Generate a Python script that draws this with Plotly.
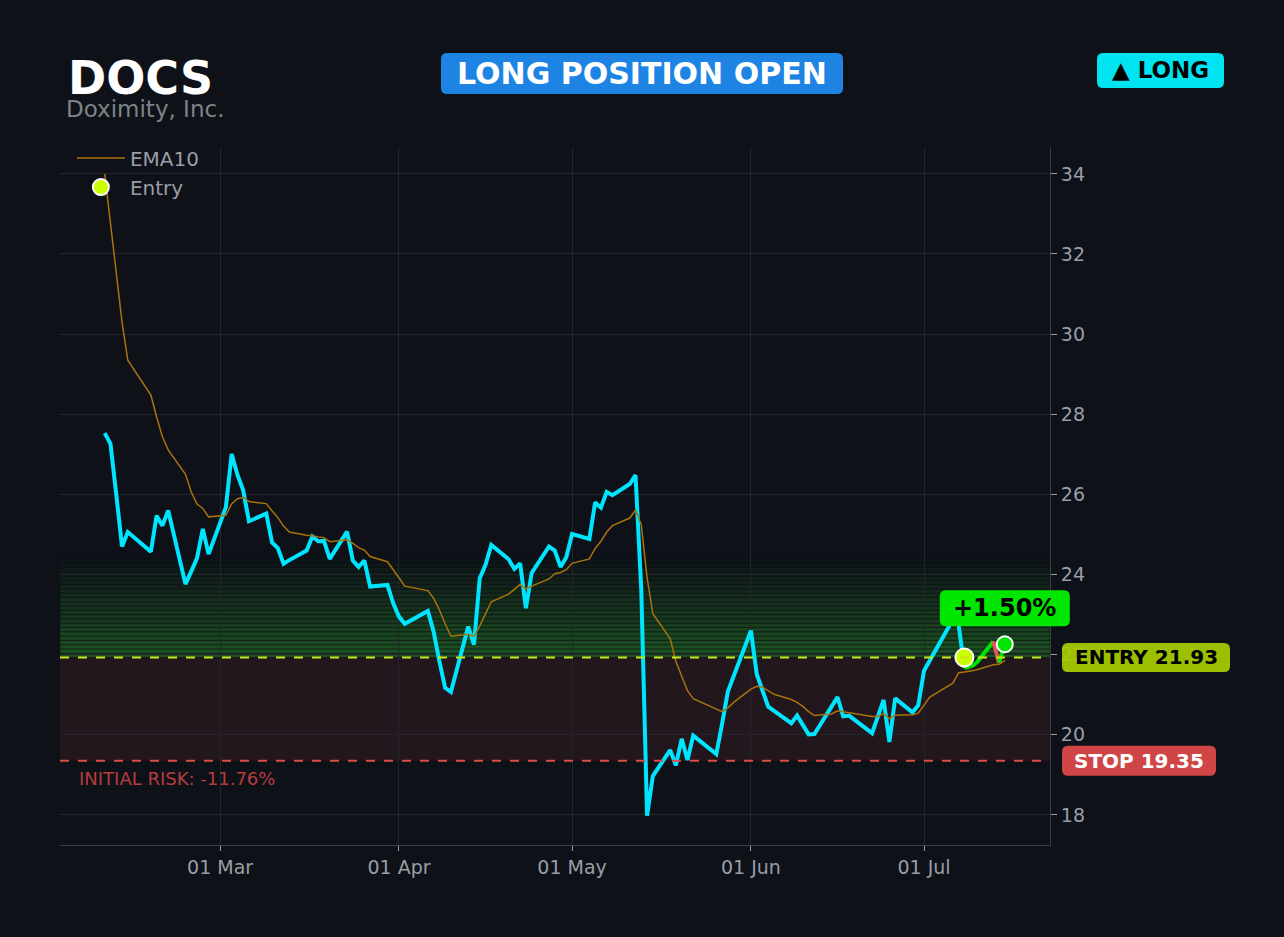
from datetime import datetime
import plotly.graph_objects as go

# ---------------- data ----------------
dates = [
    "2026-02-09", "2026-02-10", "2026-02-11", "2026-02-12", "2026-02-13",
    "2026-02-17", "2026-02-18", "2026-02-19", "2026-02-20",
    "2026-02-23", "2026-02-24", "2026-02-25", "2026-02-26", "2026-02-27",
    "2026-03-02", "2026-03-03", "2026-03-04", "2026-03-05", "2026-03-06",
    "2026-03-09", "2026-03-10", "2026-03-11", "2026-03-12", "2026-03-13",
    "2026-03-16", "2026-03-17", "2026-03-18", "2026-03-19", "2026-03-20",
    "2026-03-23", "2026-03-24", "2026-03-25", "2026-03-26", "2026-03-27",
    "2026-03-30", "2026-03-31", "2026-04-01", "2026-04-02",
    "2026-04-06", "2026-04-07", "2026-04-08", "2026-04-09", "2026-04-10",
    "2026-04-13", "2026-04-14", "2026-04-15", "2026-04-16", "2026-04-17",
    "2026-04-20", "2026-04-21", "2026-04-22", "2026-04-23", "2026-04-24",
    "2026-04-27", "2026-04-28", "2026-04-29", "2026-04-30", "2026-05-01",
    "2026-05-04", "2026-05-05", "2026-05-06", "2026-05-07", "2026-05-08",
    "2026-05-11", "2026-05-12", "2026-05-13", "2026-05-14", "2026-05-15",
    "2026-05-18", "2026-05-19", "2026-05-20", "2026-05-21", "2026-05-22",
    "2026-05-26", "2026-05-27", "2026-05-28", "2026-05-29",
    "2026-06-01", "2026-06-02", "2026-06-03", "2026-06-04", "2026-06-05",
    "2026-06-08", "2026-06-09", "2026-06-10", "2026-06-11", "2026-06-12",
    "2026-06-15", "2026-06-16", "2026-06-17", "2026-06-18",
    "2026-06-22", "2026-06-23", "2026-06-24", "2026-06-25", "2026-06-26",
    "2026-06-29", "2026-06-30", "2026-07-01", "2026-07-02",
    "2026-07-06", "2026-07-07", "2026-07-08", "2026-07-09", "2026-07-10",
    "2026-07-13", "2026-07-14", "2026-07-15",
]

close = [
    27.53, 27.26, 26.00, 24.70, 25.06,
    24.57, 25.47, 25.22, 25.60,
    23.76, 24.08, 24.41, 25.14, 24.51,
    25.68, 27.01, 26.49, 26.10, 25.33,
    25.52, 24.80, 24.66, 24.27, 24.36,
    24.60, 24.95, 24.83, 24.84, 24.39,
    25.07, 24.35, 24.19, 24.35, 23.70,
    23.74, 23.28, 22.95, 22.77,
    23.09, 22.58, 21.84, 21.17, 21.07,
    22.70, 22.25, 23.91, 24.24, 24.74,
    24.38, 24.14, 24.28, 23.16, 24.04,
    24.70, 24.60, 24.19, 24.43, 25.01,
    24.89, 25.80, 25.67, 26.06, 25.98,
    26.26, 26.48, 23.60, 17.98, 18.97,
    19.62, 19.24, 19.90, 19.37, 19.98,
    19.52, 20.27, 21.08, 21.46,
    22.60, 21.52, 21.12, 20.70, 20.60,
    20.29, 20.48, 20.25, 20.01, 20.02,
    20.70, 20.94, 20.46, 20.48,
    20.04, 20.47, 20.87, 19.82, 20.91,
    20.56, 20.74, 21.60, 21.86,
    22.88, 22.74, 21.67, 21.70, 21.78,
    22.33, 21.80, 22.26,
]

ema10 = [
    34.00, 32.77, 31.54, 30.30, 29.35,
    28.48, 27.93, 27.44, 27.11,
    26.50, 26.06, 25.76, 25.65, 25.44,
    25.48, 25.76, 25.89, 25.93, 25.82,
    25.77, 25.59, 25.42, 25.21, 25.06,
    24.98, 24.97, 24.94, 24.92, 24.82,
    24.87, 24.78, 24.67, 24.61, 24.45,
    24.32, 24.13, 23.92, 23.71,
    23.60, 23.41, 23.12, 22.77, 22.46,
    22.51, 22.46, 22.72, 23.00, 23.32,
    23.51, 23.63, 23.75, 23.64, 23.71,
    23.89, 24.02, 24.05, 24.12, 24.28,
    24.39, 24.65, 24.83, 25.06, 25.22,
    25.41, 25.61, 25.24, 23.92, 23.02,
    22.40, 21.83, 21.48, 21.10, 20.90,
    20.65, 20.58, 20.67, 20.81,
    21.14, 21.21, 21.19, 21.10, 21.01,
    20.88, 20.81, 20.71, 20.58, 20.48,
    20.52, 20.60, 20.57, 20.55,
    20.46, 20.46, 20.53, 20.40, 20.49,
    20.50, 20.54, 20.73, 20.94,
    21.29, 21.55, 21.57, 21.59, 21.62,
    21.75, 21.76, 21.85,
]

ticker = "DOCS"
company = "Doximity, Inc."
entry_date = "2026-07-08"
entry_price = 21.93
stop_price = 19.35
zone_top = 24.5
pnl_label = "+1.50%"
risk_label = "INITIAL RISK: -11.76%"
y_ticks = [18, 20, 22, 24, 26, 28, 30, 32, 34]

# ---------------- styling ----------------
BG = "#0e1118"
GRID = "#22252c"
AXIS = "#3a3e46"
TXT = "#9a9ea4"
CYAN = "#00e5ff"
EMA_C = "#a8730c"
ENTRY_C = "#c6e80e"
STOP_C = "#e04a4a"
UP_C = "#00e600"
DN_C = "#e05555"
FONT = "DejaVu Sans"

X_RANGE = ["2026-02-01 06:00", "2026-07-22 20:00"]
Y_RANGE = [17.25, 34.67]
PW, PH = 990, 698          # plot area size in px
ML, MT = 60, 147           # plot area offset

entry_idx = dates.index(entry_date)


def paper_x_of_px(px):
    return (px - ML) / PW


def paper_y_of_px(py):
    return (MT + PH - py) / PH


def paper_x_of_date(d):
    t0 = datetime.fromisoformat(X_RANGE[0])
    t1 = datetime.fromisoformat(X_RANGE[1])
    t = datetime.fromisoformat(d)
    return (t - t0).total_seconds() / (t1 - t0).total_seconds()


def rrect(xc, yc, w, h, r, yref, color):
    """rounded rectangle centred at (xc paper, yc in yref units), size in px"""
    kx = 1.0 / PW
    ky = 1.0 / PH if yref == "paper" else (Y_RANGE[1] - Y_RANGE[0]) / PH
    x0, x1 = xc - w / 2 * kx, xc + w / 2 * kx
    y0, y1 = yc - h / 2 * ky, yc + h / 2 * ky
    rx, ry = r * kx, r * ky
    p = (f"M{x0 + rx},{y0} L{x1 - rx},{y0} Q{x1},{y0} {x1},{y0 + ry} "
         f"L{x1},{y1 - ry} Q{x1},{y1} {x1 - rx},{y1} "
         f"L{x0 + rx},{y1} Q{x0},{y1} {x0},{y1 - ry} "
         f"L{x0},{y0 + ry} Q{x0},{y0} {x0 + rx},{y0} Z")
    return dict(type="path", path=p, xref="paper", yref=yref,
                fillcolor=color, line=dict(width=0), layer="above")


fig = go.Figure()

# price history up to entry
fig.add_trace(go.Scatter(
    x=dates[:entry_idx + 1], y=close[:entry_idx + 1], mode="lines",
    line=dict(color=CYAN, width=4), showlegend=False, hoverinfo="skip"))

# post entry coloured segments
for i in range(entry_idx, len(dates) - 1):
    col = UP_C if close[i + 1] >= close[i] else DN_C
    fig.add_trace(go.Scatter(
        x=dates[i:i + 2], y=close[i:i + 2], mode="lines",
        line=dict(color=col, width=4), showlegend=False, hoverinfo="skip"))

# EMA
fig.add_trace(go.Scatter(
    x=dates, y=ema10, mode="lines", name="EMA10",
    line=dict(color=EMA_C, width=1.5)))

# entry marker
fig.add_trace(go.Scatter(
    x=[entry_date], y=[entry_price], mode="markers", name="Entry",
    marker=dict(color="#ccff00", size=18, line=dict(color="white", width=2))))

# last price marker
fig.add_trace(go.Scatter(
    x=[dates[-1]], y=[close[-1]], mode="markers", showlegend=False,
    marker=dict(color=UP_C, size=16, line=dict(color="white", width=2))))

shapes = []
# risk zone
shapes.append(dict(type="rect", xref="paper", x0=0, x1=1, yref="y",
                   y0=stop_price, y1=entry_price, fillcolor="#22171d",
                   line=dict(width=0), layer="below"))
# green gradient bands
nb = 24
h = (zone_top - entry_price) / nb
for k in range(nb):
    a = 0.5 * (1 - k / nb) ** 1.1
    shapes.append(dict(type="rect", xref="paper", x0=0, x1=1, yref="y",
                       y0=entry_price + k * h, y1=entry_price + (k + 1) * h,
                       fillcolor=f"rgba(45,150,45,{a:.3f})",
                       line=dict(color="rgba(14,17,24,0.55)", width=1),
                       layer="below"))
# entry & stop lines
shapes.append(dict(type="line", xref="paper", x0=0, x1=1, yref="y",
                   y0=entry_price, y1=entry_price,
                   line=dict(color=ENTRY_C, width=2, dash="dash")))
shapes.append(dict(type="line", xref="paper", x0=0, x1=1, yref="y",
                   y0=stop_price, y1=stop_price,
                   line=dict(color=STOP_C, width=2, dash="dash")))

# badge boxes (rounded)
blue_x, blue_y = paper_x_of_px(642), paper_y_of_px(73.5)
long_x, long_y = paper_x_of_px(1160.5), paper_y_of_px(70.5)
entry_lx = paper_x_of_px(1146)
stop_lx = paper_x_of_px(1139)
pnl_x = paper_x_of_date(dates[-1])
pnl_y = close[-1] + 36 * (Y_RANGE[1] - Y_RANGE[0]) / PH

shapes.append(rrect(blue_x, blue_y, 402, 41, 6, "paper", "#1e84e4"))
shapes.append(rrect(long_x, long_y, 127, 35, 6, "paper", "#00e3f0"))
shapes.append(rrect(entry_lx, entry_price, 168, 29, 6, "y",
                    "rgba(168,204,0,0.93)"))
shapes.append(rrect(stop_lx, stop_price, 154, 30, 6, "y", "#d04545"))
shapes.append(rrect(pnl_x, pnl_y, 130, 36, 6, "y", "#00e600"))

annotations = [
    dict(xref="paper", yref="paper", x=0.006, y=1.099, xanchor="left",
         yanchor="middle", text=f"<b>{ticker}</b>", showarrow=False,
         font=dict(family=FONT, size=46, color="white")),
    dict(xref="paper", yref="paper", x=0.004, y=1.054, xanchor="left",
         yanchor="middle", text=company, showarrow=False,
         font=dict(family=FONT, size=23, color="#7f8388")),
    dict(xref="paper", yref="paper", x=blue_x, y=blue_y, xanchor="center",
         yanchor="middle", text="<b>LONG POSITION OPEN</b>", showarrow=False,
         font=dict(family=FONT, size=30, color="white")),
    dict(xref="paper", yref="paper", x=long_x, y=long_y, xanchor="center",
         yanchor="middle", text="<b>▲ LONG</b>", showarrow=False,
         font=dict(family=FONT, size=23, color="black")),
    dict(xref="paper", yref="y", x=entry_lx, y=entry_price, xanchor="center",
         yanchor="middle", text=f"<b>ENTRY {entry_price:.2f}</b>",
         showarrow=False, font=dict(family=FONT, size=20, color="black")),
    dict(xref="paper", yref="y", x=stop_lx, y=stop_price, xanchor="center",
         yanchor="middle", text=f"<b>STOP {stop_price:.2f}</b>",
         showarrow=False, font=dict(family=FONT, size=20, color="white")),
    dict(xref="paper", yref="y", x=pnl_x, y=pnl_y,
         xanchor="center", yanchor="middle", text=f"<b>{pnl_label}</b>",
         showarrow=False, font=dict(family=FONT, size=24, color="black")),
    dict(xref="paper", yref="y", x=0.017, y=18.92, xanchor="left",
         yanchor="middle", text=risk_label, showarrow=False,
         font=dict(family=FONT, size=18, color="#b83c3c")),
]

fig.update_layout(
    width=1284, height=937,
    paper_bgcolor=BG, plot_bgcolor=BG,
    margin=dict(l=ML, r=1284 - ML - PW, t=MT, b=937 - MT - PH),
    font=dict(family=FONT, color=TXT),
    shapes=shapes, annotations=annotations,
    legend=dict(x=0.012, y=1.012, xanchor="left", yanchor="top",
                itemwidth=48, bgcolor="rgba(0,0,0,0)",
                font=dict(size=20, color=TXT)),
    showlegend=True,
)
fig.update_xaxes(
    range=X_RANGE,
    tickformat="%d %b", dtick="M1", tick0="2026-03-01",
    showgrid=True, gridcolor=GRID, gridwidth=1,
    showline=True, linecolor=AXIS, linewidth=1,
    ticks="outside", tickcolor=TXT, ticklen=5,
    tickfont=dict(size=19, color=TXT), zeroline=False)
fig.update_yaxes(
    range=Y_RANGE, side="right", tickvals=y_ticks,
    showgrid=True, gridcolor=GRID, gridwidth=1,
    showline=True, linecolor=AXIS, linewidth=1, mirror=False,
    ticks="outside", tickcolor=TXT, ticklen=6,
    tickfont=dict(size=19, color=TXT), zeroline=False)

fig.write_html(
    "out.html",
    config={"displayModeBar": False},
    post_script="document.body.style.margin='0';"
                "document.body.style.background='#0e1118';"
                "document.body.style.overflow='hidden';")
